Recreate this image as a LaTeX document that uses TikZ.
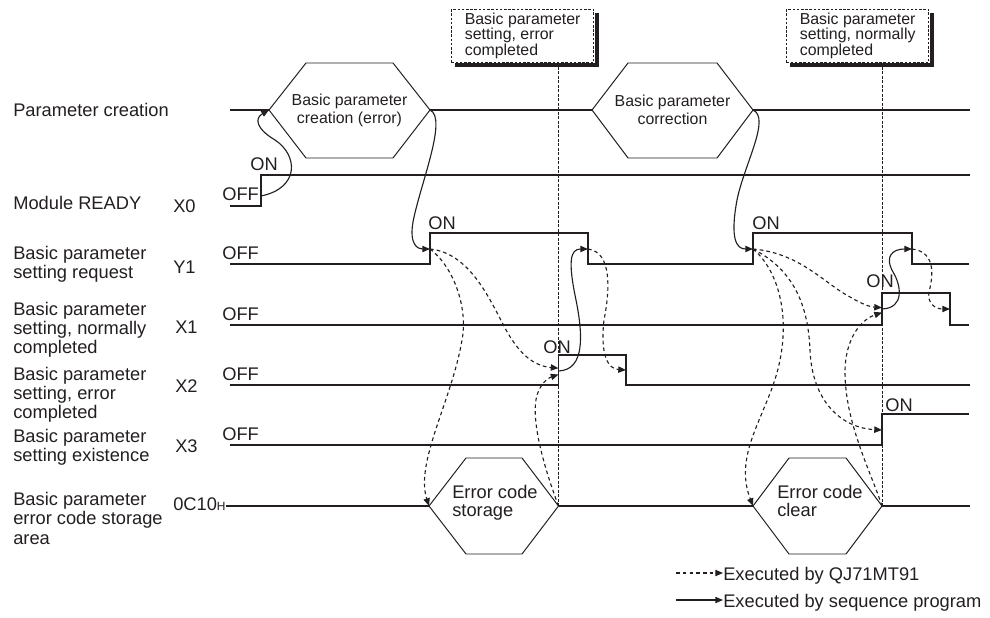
\documentclass[tikz,border=0pt]{standalone}
\usepackage{fontspec}
\setmainfont{Liberation Sans}
\usetikzlibrary{arrows.meta}
\definecolor{mitsuInk}{HTML}{231F20}

\begin{document}
\begin{tikzpicture}[
    x=0.025cm, y=-0.025cm,
    font=\fontsize{13}{13.7}\selectfont, text=mitsuInk,
    >={Triangle[length=5.5pt,width=4.5pt]},
    lbl/.style={anchor=base west, inner sep=0pt, align=left},
    signal/.style={draw=mitsuInk, line width=0.8pt},
    bus/.style={draw=mitsuInk, line width=1.2pt},
    hexa/.style={draw=mitsuInk, line width=0.7pt},
    hexlbl/.style={inner sep=0pt, align=center, font=\fontsize{11.3}{12.8}\selectfont},
    seqarrow/.style={->, draw=mitsuInk, line width=0.8pt},
    qjarrow/.style={->, draw=mitsuInk, line width=0.8pt, dash pattern=on 2.6pt off 2.2pt},
    marker/.style={draw=mitsuInk, line width=0.5pt, dash pattern=on 2pt off 1.2pt},
    note/.style={draw=mitsuInk, fill=white, line width=0.6pt, dash pattern=on 1.8pt off 1.2pt,
      anchor=north west, minimum width=101.3pt, minimum height=37.6pt,
      inner sep=0pt, align=left, font=\fontsize{11.3}{11}\selectfont},
    noteshade/.style={draw=mitsuInk, line width=2.8pt, line cap=rect}
  ]
    \useasboundingbox (0,0) rectangle (990,617);

    \node[lbl] (lblPC) at (13,117) {Parameter creation};
    \node[lbl] (lblX0) at (13,209) {Module READY};
    \node[lbl] (lblY1) at (13,278.3) {Basic parameter\\setting request};
    \node[lbl] (lblX1) at (13,353.6) {Basic parameter\\setting, normally\\completed};
    \node[lbl] (lblX2) at (13,418.6) {Basic parameter\\setting, error\\completed};
    \node[lbl] (lblX3) at (13,461.8) {Basic parameter\\setting existence};
    \node[lbl] (lblEC) at (13,544) {Basic parameter\\error code storage\\area};

    \node[lbl] (devX0) at (173,212) {X0};
    \node[lbl] (devY1) at (173,273) {Y1};
    \node[lbl] (devX1) at (175,333) {X1};
    \node[lbl] (devX2) at (175,392) {X2};
    \node[lbl] (devX3) at (175,452) {X3};
    \node[lbl] (ecode) at (173,510) {0C10{\fontsize{8.5}{8}\selectfont H}};

    \node[lbl] (offX0) at (222,200) {OFF};
    \node[lbl] (offY1) at (222,259) {OFF};
    \node[lbl] (offX1) at (222,320) {OFF};
    \node[lbl] (offX2) at (222,380) {OFF};
    \node[lbl] (offX3) at (222,440) {OFF};
    \node[lbl] (onX0) at (250,170) {ON};
    \node[lbl] (onY1a) at (428,229) {ON};
    \node[lbl] (onY1b) at (752,229) {ON};
    \node[lbl] (onX2) at (543,353) {ON};
    \node[lbl] (onX1) at (866,287) {ON};
    \node[lbl] (onX3) at (885,411) {ON};

    \coordinate (hexAw) at (269,110);
    \coordinate (hexAe) at (430,110);
    \coordinate (hexBw) at (592,110);
    \coordinate (hexBe) at (753,110);
    \coordinate (hexCw) at (429,506);
    \coordinate (hexCe) at (558.5,506);
    \coordinate (hexDw) at (753,506);
    \coordinate (hexDe) at (882,506);
    \coordinate (x0up) at (261,196);
    \coordinate (y1upA) at (430,249);
    \coordinate (y1dnA) at (588,249);
    \coordinate (y1upB) at (753,249);
    \coordinate (y1dnB) at (912,249);
    \coordinate (x1up) at (882,309);
    \coordinate (x1dn) at (950,309);
    \coordinate (x2up) at (558.5,371);
    \coordinate (x2dn) at (626,370);
    \coordinate (x3up) at (882,430);

    \draw[bus] (230,110) -- (hexAw) (hexAe) -- (hexBw) (hexBe) -- (970,110);
    \draw[signal] (230,206) -- (261,206) -- (261,175) -- (970,175);
    \draw[signal] (230,264) -- (430,264) -- (430,233) -- (588,233) -- (588,264)
      -- (753,264) -- (753,233) -- (912,233) -- (912,264) -- (969,264);
    \draw[signal] (230,325) -- (882,325) -- (882,293) -- (950,293) -- (950,325) -- (969,325);
    \draw[signal] (230,385) -- (558.5,385) -- (558.5,355) -- (626,355) -- (626,385) -- (970,385);
    \draw[signal] (230,445) -- (882,445) -- (882,414) -- (969,414);
    \draw[bus] (ecode.east |- hexCw) -- (hexCw) (hexCe) -- (hexDw) (hexDe) -- (970,506);

    \draw[hexa] (hexAw) -- (306,63) -- (393,63) -- (hexAe) -- (393,158) -- (306,158) -- cycle;
    \draw[hexa] (hexBw) -- (628,63) -- (717,63) -- (hexBe) -- (717,158) -- (628,158) -- cycle;
    \draw[hexa] (hexCw) -- (466,458) -- (522,458) -- (hexCe) -- (522,554) -- (466,554) -- cycle;
    \draw[hexa] (hexDw) -- (789,458) -- (846,458) -- (hexDe) -- (846,554) -- (789,554) -- cycle;
    \node[hexlbl] (hexAtxt) at (349.5,110) {Basic parameter\\creation (error)};
    \node[hexlbl] (hexBtxt) at (672.5,110) {Basic parameter\\correction};
    \node[lbl, font=\fontsize{13}{12.2}\selectfont] (hexCtxt) at (452,516) {Error code\\storage};
    \node[lbl, font=\fontsize{13}{12.2}\selectfont] (hexDtxt) at (777,516) {Error code\\clear};

    \node[note] (noteErr) at (451,9) {Basic parameter\\setting, error\\completed};
    \node[note] (noteOk) at (786,9) {Basic parameter\\setting, normally\\completed};
    \draw[noteshade] (597,15) -- (597,65) -- (457,65);
    \draw[noteshade] (932,15) -- (932,65) -- (792,65);
    \draw[marker] ([yshift=-3pt]noteErr.south -| hexCe) -- (hexCe);
    \draw[marker] ([yshift=-3pt]noteOk.south -| hexDe) -- (hexDe);

    \draw[seqarrow] (x0up) .. controls (300,188) and (298,155) .. (275,140)
      .. controls (255,128) and (255,118) .. (hexAw);
    \draw[seqarrow] (hexAe) .. controls (448,118) and (420,185) .. (413,222)
      .. controls (409,245) and (418,249) .. (y1upA);
    \draw[seqarrow] (x2up) .. controls (585,370) and (583,335) .. (576,300)
      .. controls (568,262) and (570,249) .. (y1dnA);
    \draw[seqarrow] (hexBe) .. controls (771,118) and (744,165) .. (737,200)
      .. controls (730,238) and (736,249) .. (y1upB);
    \draw[seqarrow] (x1up) .. controls (905,308) and (901,285) .. (893,272)
      .. controls (884,256) and (893,249) .. (y1dnB);

    \draw[qjarrow] (y1upA) .. controls (470,253) and (490,300) .. (505,328)
      .. controls (520,356) and (535,366) .. ([yshift=2pt]x2up);
    \draw[qjarrow] (y1upA) .. controls (455,268) and (468,310) .. (462,340)
      .. controls (452,400) and (415,462) .. (hexCw);
    \draw[qjarrow] (hexCe) .. controls (545,470) and (530,420) .. (537,395)
      .. controls (541,383) and (548,378) .. ([yshift=-2.5pt]x2up);
    \draw[qjarrow] (y1dnA) .. controls (612,252) and (610,290) .. (604,320)
      .. controls (600,355) and (608,369) .. (x2dn);
    \draw[qjarrow] (y1upB) .. controls (800,253) and (825,284) .. (850,297)
      .. controls (862,304) and (870,307) .. ([yshift=1pt]x1up);
    \draw[qjarrow] (y1upB) .. controls (790,268) and (808,300) .. (810,350)
      .. controls (812,402) and (842,428) .. (x3up);
    \draw[qjarrow] (y1upB) .. controls (776,268) and (790,310) .. (780,360)
      .. controls (770,412) and (732,452) .. (hexDw);
    \draw[qjarrow] (hexDe) .. controls (870,470) and (845,422) .. (845,372)
      .. controls (845,340) and (860,320) .. ([yshift=-2.5pt]x1up);
    \draw[qjarrow] (y1dnB) .. controls (938,252) and (932,280) .. (929,292)
      .. controls (927,303) and (935,309) .. (x1dn);

    \coordinate (lgQ) at (676,573);
    \coordinate (lgS) at (676,600);
    \node[lbl] (lgQtxt) at (723,580) {Executed by QJ71MT91};
    \node[lbl] (lgStxt) at (723,607) {Executed by sequence program};
    \draw[qjarrow] (lgQ) -- (lgQ -| lgQtxt.west);
    \draw[seqarrow] (lgS) -- (lgS -| lgStxt.west);
  \end{tikzpicture}
\end{document}
